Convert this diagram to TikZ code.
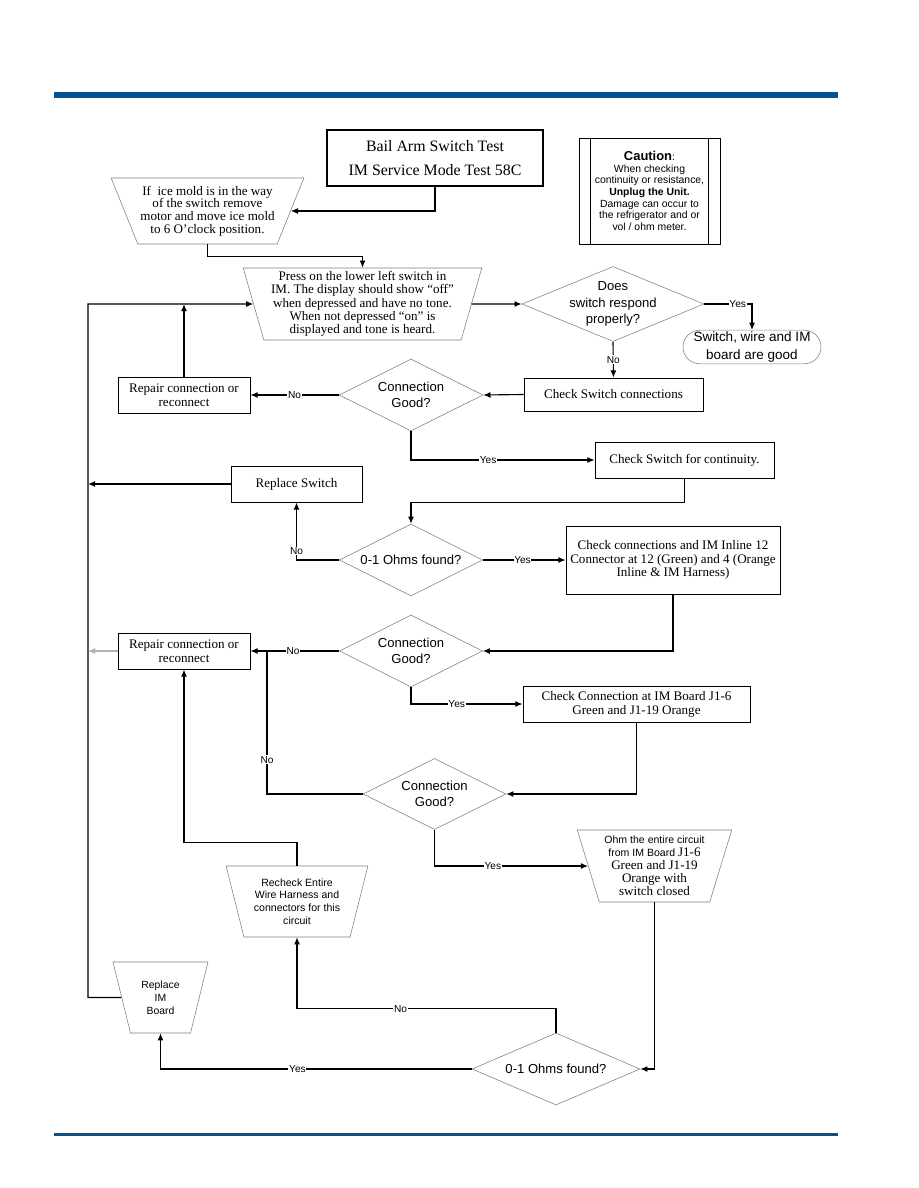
\documentclass[tikz,border=0pt]{standalone}
\usepackage{fontspec}
\setmainfont{Liberation Serif}
\setsansfont{Liberation Sans}
\usetikzlibrary{shapes.geometric, positioning, arrows.meta, calc}
\definecolor{barblue}{RGB}{0,84,147}

\begin{document}
\begin{tikzpicture}[
  x=0.25mm, y=-0.25mm,
  >=Latex,
  proc/.style    ={draw, line width=0.6pt, rectangle, align=center,
                   inner sep=1pt, font=\rmfamily\fontsize{9.3}{9.8}\selectfont},
  manual/.style  ={draw=gray, thin, trapezium, shape border rotate=180,
                   trapezium stretches=true, align=center, inner sep=0pt},
  decision/.style={draw=gray, thin, diamond, aspect=2, inner sep=0pt,
                   align=center, font=\sffamily\fontsize{9.3}{11.8}\selectfont},
  term/.style    ={draw=gray, thin, rectangle, rounded corners=4.2mm,
                   align=center, inner sep=0pt,
                   font=\sffamily\fontsize{9.6}{12.4}\selectfont},
  note/.style    ={draw, line width=0.6pt, rectangle, align=center, inner sep=0pt,
                   font=\sffamily\fontsize{7.4}{8.3}\selectfont},
  arr/.style     ={-{Latex[length=1.8mm, width=1.5mm]}, line width=0.8pt},
  conn/.style    ={line width=0.8pt},
  edgelbl/.style ={font=\sffamily\fontsize{7.2}{8}\selectfont, inner sep=0.5pt,
                   fill=white},
]
\useasboundingbox (0,0) rectangle (918,1188);

%% ---- page rules ----
\fill[barblue] (54,92) rectangle (838,98);
\fill[barblue] (54,1133) rectangle (838,1136);

%% ---- top: title, caution, ice mold ----
\node[proc, line width=0.9pt, minimum width=54mm, minimum height=14mm,
      font=\rmfamily\fontsize{11.3}{17}\selectfont] (title) at (435,158)
  {Bail Arm Switch Test\\IM Service Mode Test 58C};

\node[note, minimum width=35.25mm, minimum height=26.5mm] (caution) at (649.5,191)
  {{\bfseries\fontsize{9.2}{10.5}\selectfont Caution}:\\When checking\\
   continuity or resistance,\\\textbf{Unplug the Unit.}\\Damage can occur to\\
   the refrigerator and or\\vol / ohm meter.};
\draw[line width=0.6pt] ($(caution.north west)+(12,0)$) -- ($(caution.south west)+(12,0)$);
\draw[line width=0.6pt] ($(caution.north east)+(-12,0)$) -- ($(caution.south east)+(-12,0)$);

\node[manual, minimum width=48.25mm, minimum height=16.5mm,
      trapezium left angle=62.7, trapezium right angle=62.7,
      font=\rmfamily\fontsize{9.3}{9}\selectfont] (icemold) at (207.5,211)
  {If\ \ ice mold is in the way\\of the switch remove\\motor and move ice mold\\
   to 6 O'clock position.};
\draw[arr] (title.south) |- (icemold.east);

%% ---- press switch / does it respond ----
\node[manual, minimum width=59.75mm, minimum height=18mm,
      trapezium left angle=73.7, trapezium right angle=73.7,
      font=\rmfamily\fontsize{9.3}{9.5}\selectfont] (press) at (362.5,304)
  {Press on the lower left switch in\\IM. The display should show ``off''\\
   when depressed and have no tone.\\When not depressed ``on'' is\\
   displayed and tone is heard.};
\draw[arr] (icemold.south) -- ++(0,12) -| (press.north);

\coordinate (lefttop) at (88,304);

\node[decision, aspect=2.43, inner ysep=-2mm, minimum width=45.5mm,
      minimum height=18.75mm] (respond) at (613,304)
  {Does\\switch respond\\properly?};
\draw[arr] (press.east) -- (respond.west);

\node[term, minimum width=34.5mm, minimum height=8.4mm] (good) at (752,347)
  {Switch, wire and IM\\board are good};
\draw[arr] (respond.east) -| node[edgelbl,pos=0.35]{Yes} (good.north);

%% ---- switch connections ----
\node[proc, minimum width=44.75mm, minimum height=8.25mm] (chkconn) at (613.5,394.5)
  {Check Switch connections};
\draw[arr] (respond.south) -- node[edgelbl]{No} (chkconn.north);

\node[decision, minimum width=36mm, minimum height=18mm] (connA) at (411,395)
  {Connection\\Good?};
\draw[arr] (chkconn.west) -- (connA.east);

\node[proc, minimum width=33mm, minimum height=9mm] (repairA) at (184,395)
  {Repair connection or\\reconnect};
\draw[arr] (connA.west) -- node[edgelbl]{No} (repairA.east);
\draw[arr] (repairA.north) -- (repairA.north |- lefttop);

\node[proc, minimum width=44.75mm, minimum height=9mm] (contin) at (684.5,460)
  {Check Switch for continuity.};
\draw[arr] (connA.south) |- node[edgelbl,pos=0.71]{Yes} (contin.west);

%% ---- continuity ----
\node[decision, minimum width=35.75mm, minimum height=18mm] (ohmsA) at (411,560)
  {0-1 Ohms found?};
\draw[arr] (contin.south) -- ++(0,24) -| (ohmsA.north);

\node[proc, minimum width=32.75mm, minimum height=9mm] (replsw) at (296.5,484)
  {Replace Switch};
\draw[arr] (ohmsA.west) -| node[edgelbl,pos=0.58]{No} (replsw.south);
\draw[arr] (replsw.west) -- (replsw.west -| lefttop);

\node[proc, minimum width=53.5mm, minimum height=17mm] (inline) at (673,560)
  {Check connections and IM Inline 12\\Connector at 12 (Green) and 4 (Orange\\
   Inline \& IM Harness)};
\draw[arr] (ohmsA.east) -- node[edgelbl,pos=0.48]{Yes} (inline.west);

%% ---- inline connector ----
\node[decision, minimum width=35.75mm, minimum height=18mm] (connB) at (411,651)
  {Connection\\Good?};
\draw[arr] (inline.south) |- (connB.east);

\node[proc, minimum width=33mm, minimum height=9mm] (repairB) at (184,651)
  {Repair connection or\\reconnect};
\draw[arr] (connB.west) -- node[edgelbl,pos=0.52]{No} (repairB.east);
\draw[arr, gray!60] (repairB.west) -- (repairB.west -| lefttop);

\node[proc, minimum width=56.75mm, minimum height=9mm] (board) at (636.5,704)
  {Check Connection at IM Board J1-6\\Green and J1-19 Orange};
\draw[arr] (connB.south) |- node[edgelbl,pos=0.705]{Yes} (board.west);

%% ---- IM board connector ----
\node[decision, minimum width=35.75mm, minimum height=17.75mm] (connC) at (434.5,794)
  {Connection\\Good?};
\draw[arr] (board.south) |- (connC.east);

\coordinate (join) at (267,651);
\draw[conn] (connC.west) -| node[edgelbl,pos=0.62]{No} (join);

\node[manual, minimum width=38.75mm, minimum height=18mm,
      trapezium left angle=71.6, trapezium right angle=71.6,
      font=\rmfamily\fontsize{9.3}{9.3}\selectfont] (circuit) at (654.5,866)
  {{\sffamily\fontsize{7.5}{9.3}\selectfont Ohm the entire circuit}\\
   {\sffamily\fontsize{7.5}{9.3}\selectfont from IM Board }J1-6\\
   Green and J1-19\\Orange with\\switch closed};
\draw[arr] (connC.south) |- node[edgelbl,pos=0.69]{Yes} (circuit.west);

%% ---- whole circuit ----
\node[decision, minimum width=42mm, minimum height=18mm] (ohmsB) at (556,1069)
  {0-1 Ohms found?};
\draw[arr] (circuit.south) |- (ohmsB.east);

\node[manual, minimum width=35.5mm, minimum height=17.75mm,
      trapezium left angle=72.4, trapezium right angle=72.4,
      font=\sffamily\fontsize{7.5}{9}\selectfont] (recheck) at (297,901.5)
  {Recheck Entire\\Wire Harness and\\connectors for this\\circuit};
\draw[arr] (ohmsB.north) -- ++(0,-24) -| node[edgelbl,pos=0.3]{No} (recheck.south);
\draw[arr] (recheck.north) -- ++(0,-23) -| (repairB.south);

\node[manual, minimum width=23.75mm, minimum height=17.75mm,
      trapezium left angle=71.7, trapezium right angle=71.7,
      font=\sffamily\fontsize{7.4}{9.2}\selectfont] (replim) at (160.5,997.5)
  {Replace\\IM\\Board};
\draw[arr] (ohmsB.west) -| node[edgelbl,pos=0.28]{Yes} (replim.south);

%% ---- return line to the press step ----
\draw[arr] (replim.west) -| (lefttop) -- (press.west);

\end{tikzpicture}
\end{document}
